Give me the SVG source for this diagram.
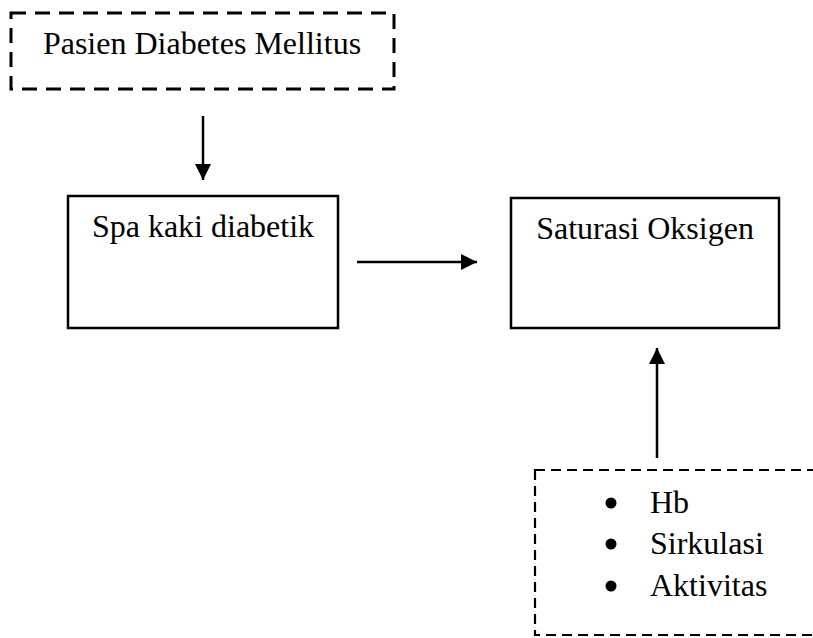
<svg xmlns="http://www.w3.org/2000/svg" width="813" height="638" viewBox="0 0 813 638">
<style>
.t{font-family:"Liberation Serif","Times New Roman",serif;font-size:32px;fill:#000}
.solid{fill:#fff;stroke:#000;stroke-width:2.5}
.dash{fill:none;stroke:#000;stroke-width:3;stroke-dasharray:15 9}
.dash2{fill:none;stroke:#000;stroke-width:2.2;stroke-dasharray:10 6}
.c{stroke:#000;stroke-width:2.5;fill:none}
</style>
<defs>
<marker id="ah" markerWidth="16" markerHeight="16" refX="10" refY="5" orient="auto" markerUnits="userSpaceOnUse" viewBox="0 0 10 10">
<path d="M0,0 L10,5 L0,10 z" fill="#000"/>
</marker>
</defs>
<rect width="813" height="638" fill="#fff"/>
<g id="connectors">
<line class="c" x1="203" y1="116" x2="203" y2="180" marker-end="url(#ah)"/>
<line class="c" x1="357" y1="262" x2="477" y2="262" marker-end="url(#ah)"/>
<line class="c" x1="657" y1="458" x2="657" y2="348" marker-end="url(#ah)"/>
</g>
<g id="pasien">
<rect class="dash" x="11" y="13" width="383" height="76"/>
<text class="t" x="202" y="54" text-anchor="middle">Pasien Diabetes Mellitus</text>
</g>
<g id="spa">
<rect class="solid" x="68" y="196" width="270" height="132"/>
<text class="t" x="203" y="237" text-anchor="middle">Spa kaki diabetik</text>
</g>
<g id="saturasi">
<rect class="solid" x="511" y="198" width="268" height="130"/>
<text class="t" x="645" y="239" text-anchor="middle">Saturasi Oksigen</text>
</g>
<g id="faktor">
<rect class="dash2" x="535" y="470" width="320" height="165"/>
<circle cx="611" cy="503" r="5.5"/>
<circle cx="611" cy="544" r="5.5"/>
<circle cx="611" cy="586" r="5.5"/>
<text class="t" x="650" y="513">Hb</text>
<text class="t" x="650" y="554">Sirkulasi</text>
<text class="t" x="650" y="596">Aktivitas</text>
</g>
</svg>
